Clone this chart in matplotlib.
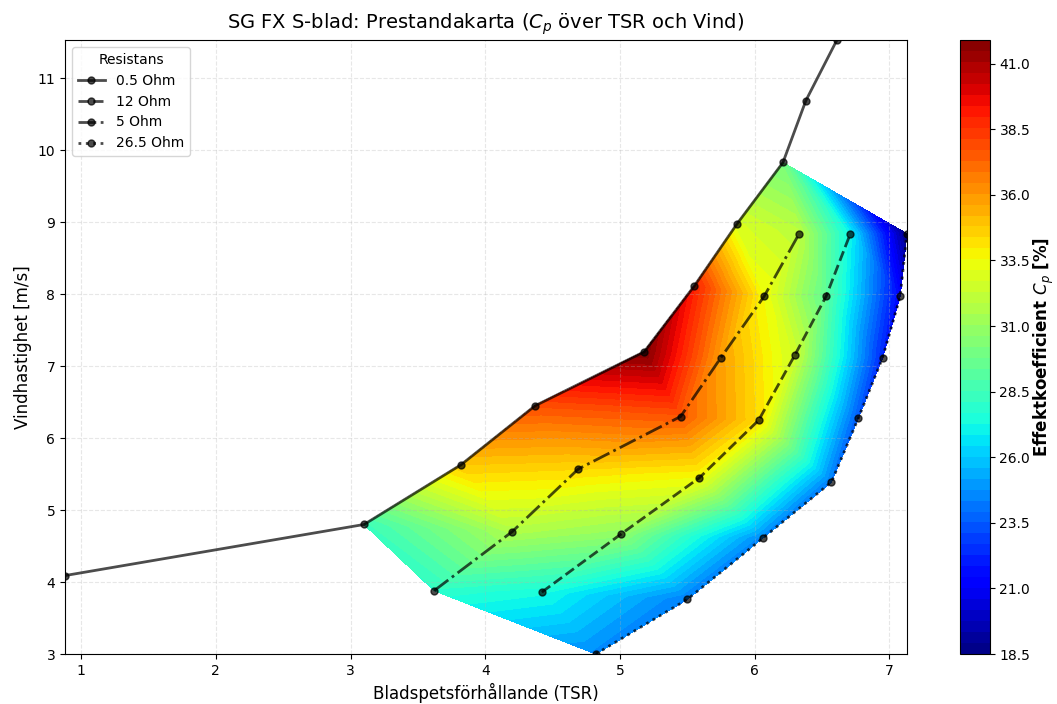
import numpy as np
import matplotlib
matplotlib.use('Agg')
import matplotlib.pyplot as plt
import matplotlib.tri as mtri
from matplotlib.path import Path

# matdata per resistans: TSR, vindhastighet [m/s], Cp [%] (nan = ingen Cp)
nan = np.nan
tsr_05 = [0.88, 3.10, 3.82, 4.37, 5.18, 5.55, 5.87, 6.21, 6.38, 6.61]
wind_05 = [4.09, 4.80, 5.63, 6.45, 7.20, 8.11, 8.98, 9.83, 10.69, 11.53]
cp_05 = [nan, 28.4, 34.8, 37.8, 41.9, 39.0, 32.8, 30.0, nan, nan]

tsr_12 = [4.42, 5.01, 5.59, 6.03, 6.30, 6.53, 6.71]
wind_12 = [3.86, 4.67, 5.45, 6.25, 7.16, 7.97, 8.84]
cp_12 = [27.4, 30.8, 33.5, 34.2, 32.5, 29.3, 27.0]

tsr_5 = [3.62, 4.20, 4.69, 5.45, 5.75, 6.07, 6.33]
wind_5 = [3.88, 4.70, 5.57, 6.30, 7.12, 7.97, 8.84]
cp_5 = [28.0, 31.6, 34.4, 37.6, 35.8, 33.5, 32.0]

tsr_265 = [4.82, 5.50, 6.06, 6.57, 6.77, 6.95, 7.08, 7.13]
wind_265 = [3.00, 3.76, 4.61, 5.39, 6.28, 7.12, 7.97, 8.84]
cp_265 = [24.6, 24.3, 24.5, 24.2, 23.4, 22.2, 21.3, 18.5]

labels = ['0.5 Ohm', '12 Ohm', '5 Ohm', '26.5 Ohm']
styles = ['-', '--', '-.', ':']

series = [(tsr_05, wind_05, cp_05), (tsr_12, wind_12, cp_12),
          (tsr_5, wind_5, cp_5), (tsr_265, wind_265, cp_265)]

x_all = np.concatenate([np.array(s[0]) for s in series])
y_all = np.concatenate([np.array(s[1]) for s in series])
z_all = np.concatenate([np.array(s[2]) for s in series])
ok = np.isfinite(z_all)
x, y, z = x_all[ok], y_all[ok], z_all[ok]

tri = mtri.Triangulation(x, y)

# maska trianglar utanfor omradet (0.5 Ohm-kurvan ar konkav)
m05 = np.isfinite(cp_05)
poly = list(zip(np.array(tsr_05)[m05], np.array(wind_05)[m05]))
poly += list(zip(tsr_265[::-1], wind_265[::-1]))
poly += [(tsr_5[0], wind_5[0])]
path = Path(poly)
cx = x[tri.triangles].mean(axis=1)
cy = y[tri.triangles].mean(axis=1)
tri.set_mask(~path.contains_points(np.column_stack([cx, cy])))

fig = plt.figure(figsize=(10.57, 7.04), dpi=100)
ax = fig.add_axes([0.0615, 0.071, 0.7965, 0.872])
cax = fig.add_axes([0.908, 0.071, 0.0284, 0.872])

cp_min, cp_max = np.nanmin(z), np.nanmax(z)
levels = np.linspace(cp_min, cp_max, 57)
cf = ax.tricontourf(tri, z, levels=levels, cmap='jet')

for (tx, wy, _), lab, ls in zip(series, labels, styles):
    ax.plot(tx, wy, ls, color='black', alpha=0.7, lw=2, marker='o', ms=5, label=lab)

ax.set_xlim(x_all.min(), x_all.max())
ax.set_ylim(y_all.min(), y_all.max())
ax.grid(True, linestyle='--', alpha=0.3)
ax.set_xlabel('Bladspetsförhållande (TSR)', fontsize=12)
ax.set_ylabel('Vindhastighet [m/s]', fontsize=12)
ax.set_title('SG FX S-blad: Prestandakarta ($C_p$ över TSR och Vind)', fontsize=14, pad=8)
ax.legend(title='Resistans', loc='upper left')

cbar = fig.colorbar(cf, cax=cax)
cbar.set_ticks(np.arange(cp_min, cp_max, 2.5))
cbar.set_label('Effektkoefficient $C_p$ [%]', fontsize=12, fontweight='bold', labelpad=1)

plt.savefig('out.png', dpi=100)
